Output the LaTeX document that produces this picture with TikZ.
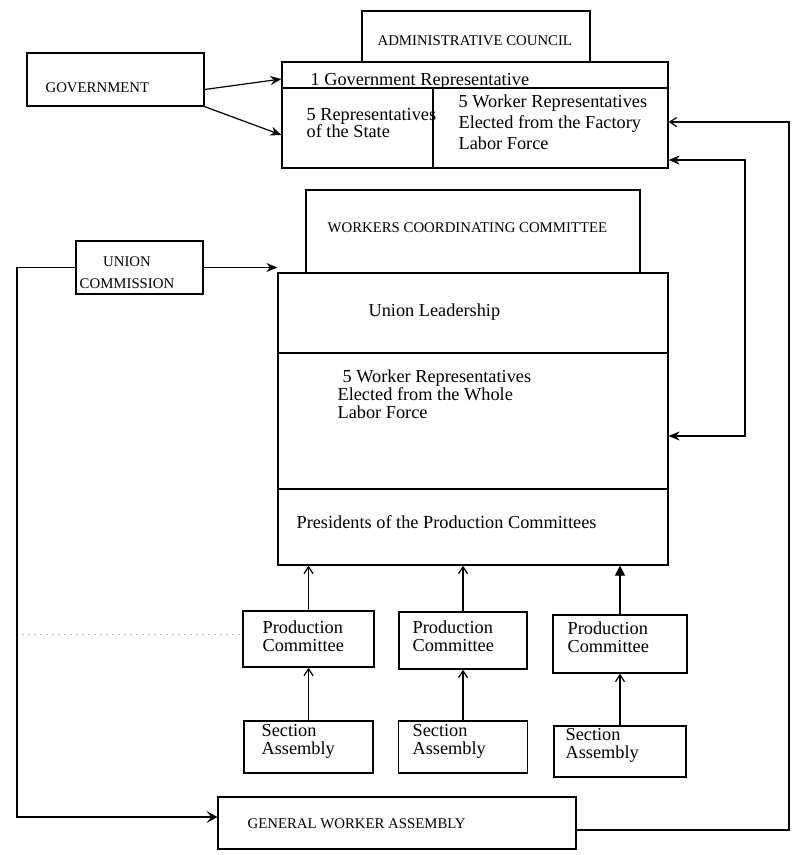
\documentclass[tikz,border=0pt]{standalone}
\usepackage{fontspec}
\setmainfont{Liberation Serif}
\usetikzlibrary{arrows.meta}
\begin{document}
\begin{tikzpicture}[x=1pt,y=-1pt,
  line width=1.2pt,
  box/.style={draw, rectangle, inner sep=0},
  caps/.style={inner sep=0, anchor=base west, font=\fontsize{14.8}{17}\selectfont},
  txt/.style={inner sep=0, anchor=base west, font=\fontsize{18.3}{18}\selectfont},
  mtxt/.style={inner sep=0, anchor=north west, align=left, font=\fontsize{18.3}{#1}\selectfont},
  fillarrow/.style={-{Stealth[length=11pt,width=9pt]}},
  openarrow/.style={-{Straight Barb[length=7pt,width=9pt]}},
  chevarrow/.style={-{Stealth[length=11pt,width=12pt,inset=5pt]}},
  triarrow/.style={-{Triangle[length=10pt,width=10pt]}},
  noise/.style={gray!55, line width=0.6pt, dash pattern=on 2pt off 4pt}
]
\useasboundingbox (0,0) rectangle (794,855);

% ---- boxes ----
\node[box, minimum width=177pt, minimum height=53pt] (gov) at (115.5,79.5) {};
\node[box, minimum width=228pt, minimum height=51pt] (adtitle) at (476,36.5) {};
\node[box, minimum width=386pt, minimum height=106pt] (adbox) at (475,115) {};
\node[box, minimum width=334pt, minimum height=83pt] (wcctitle) at (473,231.5) {};
\node[box, minimum width=390pt, minimum height=292pt] (wccbox) at (473,419) {};
\node[box, minimum width=127pt, minimum height=53pt] (uc) at (139.5,267.5) {};
\node[box, minimum width=131pt, minimum height=56pt] (pc1) at (308.5,639) {};
\node[box, minimum width=128pt, minimum height=57pt] (pc2) at (463,640.5) {};
\node[box, minimum width=134pt, minimum height=58pt] (pc3) at (620,644) {};
\node[box, minimum width=129pt, minimum height=52pt] (sa1) at (308.5,747) {};
\node[box, minimum width=129pt, minimum height=52pt] (sa2) at (463,747) {};
\node[box, minimum width=132pt, minimum height=51pt] (sa3) at (620,751.5) {};
\node[box, minimum width=358pt, minimum height=52pt] (gwa) at (397,823) {};

% dividers
\draw (adbox.west |- 0,88) -- (adbox.east |- 0,88);
\draw (433,88) -- (433,0 |- adbox.south);
\draw (wccbox.west |- 0,353) -- (wccbox.east |- 0,353);
\draw (wccbox.west |- 0,489) -- (wccbox.east |- 0,489);

% ---- texts ----
\node[caps] (tgov) at (45,92) {GOVERNMENT};
\node[caps] (tadt) at (377,45) {ADMINISTRATIVE COUNCIL};
\node[txt] (tgr) at (310,85) {1 Government Representative};
\node[mtxt=17] (tsr) at (306,107.5) {5 Representatives\\of the State};
\node[mtxt=21] (twr) at (458,94.5) {5 Worker Representatives\\Elected from the Factory\\Labor Force};
\node[caps] (twcc) at (327,232) {WORKERS COORDINATING COMMITTEE};
\node[txt] (tul) at (368,316) {Union Leadership};
\node[mtxt=18] (tww) at (337,369.5) {\hspace*{5pt}5 Worker Representatives\\Elected from the Whole\\Labor Force};
\node[txt] (tpp) at (296,528) {Presidents of the Production Committees};
\node[inner sep=0, anchor=north, align=center, font=\fontsize{14.8}{22}\selectfont] (tuc) at (127,256) {UNION\\COMMISSION};
\node[mtxt=18] (tpc1) at (262,620.5) {Production\\Committee};
\node[mtxt=18] (tpc2) at (412,620.5) {Production\\Committee};
\node[mtxt=18] (tpc3) at (567,621.5) {Production\\Committee};
\node[mtxt=17.5] (tsa1) at (261,724) {Section\\Assembly};
\node[mtxt=17.5] (tsa2) at (412,724) {Section\\Assembly};
\node[mtxt=17.5] (tsa3) at (565,728) {Section\\Assembly};
\node[caps] (tgwa) at (247,828) {GENERAL WORKER ASSEMBLY};

% ---- connectors ----
\coordinate (lcorner1) at (17,267.5);
\coordinate (lcorner2) at (17,817);
\coordinate (rcorner1) at (789,830);
\coordinate (rcorner2) at (789,122);
\coordinate (mcorner1) at (745,160);
\coordinate (mcorner2) at (745,436);
\coordinate (noisestart) at (22,634);

\draw[fillarrow] ([yshift=-10pt]gov.east) -- (adbox.west |- 0,79);
\draw[fillarrow] (gov.south east) -- (adbox.west |- 0,135);
\draw[fillarrow] (uc.east) -- (wccbox.west |- uc.east);
\draw[chevarrow] (uc.west) -- (lcorner1) -- (lcorner2) -- (gwa.west |- lcorner2);
\draw[openarrow] ([yshift=-7pt]gwa.east) -- (rcorner1) -- (rcorner2) -- (adbox.east |- rcorner2);
\draw[{Stealth[length=11pt,width=9pt]}-{Stealth[length=11pt,width=9pt]}]
  (adbox.east |- mcorner1) -- (mcorner1) -- (mcorner2) -- (wccbox.east |- mcorner2);

\draw[openarrow] (pc1.north) -- (pc1.north |- wccbox.south);
\draw[openarrow] (pc2.north) -- (pc2.north |- wccbox.south);
\draw[triarrow] (pc3.north) -- (pc3.north |- wccbox.south);
\draw[openarrow] (sa1.north) -- (pc1.south);
\draw[openarrow] (sa2.north) -- (pc2.south);
\draw[openarrow] (sa3.north) -- (pc3.south);

\draw[noise] (noisestart) -- (pc1.west |- noisestart);
\end{tikzpicture}
\end{document}
